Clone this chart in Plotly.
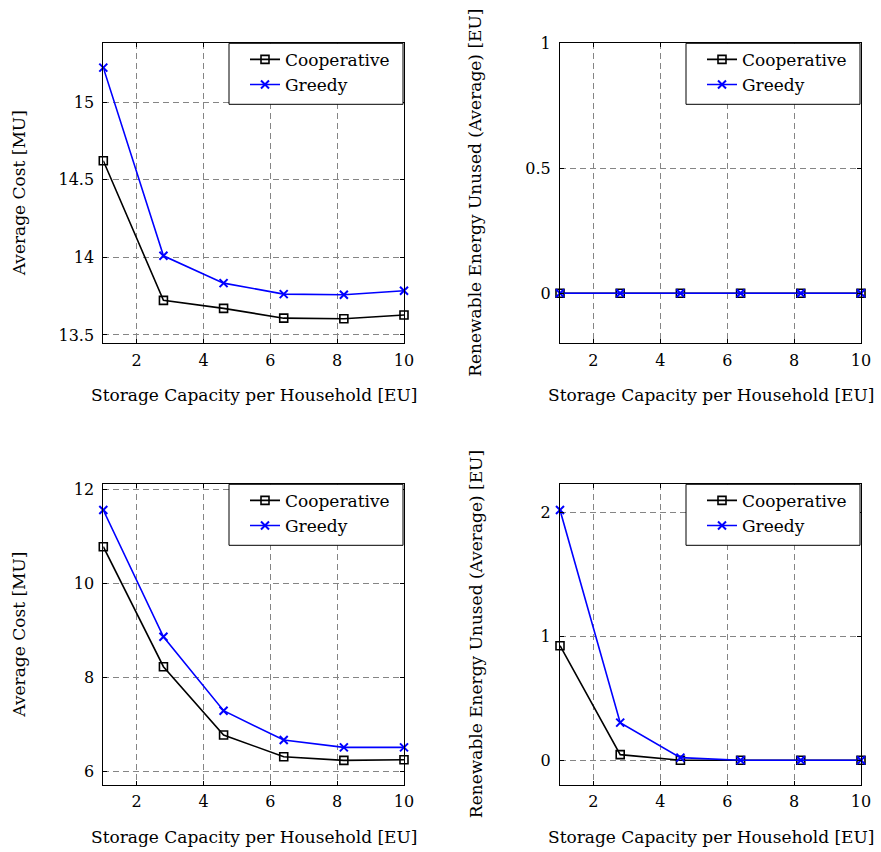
import plotly.graph_objects as go

capacity = [1, 2.8, 4.6, 6.4, 8.2, 10]

cost_top_coop = [14.623, 13.723, 13.671, 13.608, 13.604, 13.628]
cost_top_greedy = [15.223, 14.010, 13.834, 13.763, 13.759, 13.785]
unused_top_coop = [0, 0, 0, 0, 0, 0]
unused_top_greedy = [0, 0, 0, 0, 0, 0]

cost_bot_coop = [10.78, 8.23, 6.778, 6.318, 6.24, 6.253]
cost_bot_greedy = [11.56, 8.867, 7.295, 6.672, 6.516, 6.516]
unused_bot_coop = [0.924, 0.045, 0.0, 0.0, 0.0, 0.0]
unused_bot_greedy = [2.019, 0.303, 0.021, 0.0, 0.0, 0.0]

x_ticks = [2, 4, 6, 8, 10]
yticks_tl = [13.5, 14, 14.5, 15]
yticks_tr = [0, 0.5, 1]
yticks_bl = [6, 8, 10, 12]
yticks_br = [0, 1, 2]

xlabel = "Storage Capacity per Household [EU]"
ylabel_cost = "Average Cost [MU]"
ylabel_unused = "Renewable Energy Unused (Average) [EU]"

W, H = 881, 852
FONT = "DejaVu Serif"
FS_TICK = 16
FS_LABEL = 17

# panel pixel boxes (left, right, top, bottom)
panels = [
    (103.3, 404, 43.3, 343.3),
    (560, 861, 43.3, 343.3),
    (103.3, 404, 484.3, 785),
    (560, 861, 484.3, 785),
]
yranges = [[13.446, 15.38], [-0.2, 1.0], [5.717, 12.106], [-0.2, 2.226]]
ytickss = [yticks_tl, yticks_tr, yticks_bl, yticks_br]
data = [
    (cost_top_coop, cost_top_greedy),
    (unused_top_coop, unused_top_greedy),
    (cost_bot_coop, cost_bot_greedy),
    (unused_bot_coop, unused_bot_greedy),
]
ylabels = [ylabel_cost, ylabel_unused, ylabel_cost, ylabel_unused]
ylabel_x = [19, 475.5, 19, 475.5]
xlabel_y = [395, 395, 836.7, 836.7]

fig = go.Figure()
layout = {}
annotations = []
shapes = []
for i, ((l, r, t, b), yr, yt, (coop, greedy)) in enumerate(zip(panels, yranges, ytickss, data)):
    n = "" if i == 0 else str(i + 1)
    xa, ya = "x" + n, "y" + n
    lg = "legend" + n
    fig.add_trace(go.Scatter(
        x=capacity, y=coop, name="Cooperative", mode="lines+markers",
        line=dict(color="black", width=1.6),
        marker=dict(symbol="square-open", size=8, color="black", line=dict(width=1.6)),
        xaxis=xa, yaxis=ya, legend=lg, cliponaxis=False))
    fig.add_trace(go.Scatter(
        x=capacity, y=greedy, name="Greedy", mode="lines+markers",
        line=dict(color="#0000ff", width=1.6),
        marker=dict(symbol="x-thin", size=8, color="#0000ff", line=dict(width=2, color="#0000ff")),
        xaxis=xa, yaxis=ya, legend=lg, cliponaxis=False))
    common = dict(showline=True, linecolor="black", linewidth=1, mirror="ticks",
                  ticks="inside", ticklen=4, tickcolor="black", tickwidth=1,
                  showgrid=True, gridcolor="#858585", gridwidth=1, griddash="6px,4px",
                  zeroline=False, automargin=False,
                  tickfont=dict(family=FONT, size=FS_TICK, color="black"))
    layout["xaxis" + n] = dict(common, domain=[l / W, r / W], range=[1, 10],
                               tickvals=x_ticks, anchor=ya, ticklabelstandoff=2)
    layout["yaxis" + n] = dict(common, domain=[1 - b / H, 1 - t / H], range=yr,
                               tickvals=yt, anchor=xa, ticklabelstandoff=5)
    # legend frame (white box with black border), legend entries drawn on top
    shapes.append(dict(type="rect", xref="paper", yref="paper",
                       x0=(r - 175) / W, x1=(r - 1) / W,
                       y0=1 - (t + 61) / H, y1=1 - t / H,
                       fillcolor="white", line=dict(color="black", width=1),
                       layer="above"))
    layout[lg] = dict(x=(r - 159) / W, y=1 - (t - 1.5) / H, xref="paper", yref="paper",
                      xanchor="left", yanchor="top",
                      bgcolor="rgba(0,0,0,0)", borderwidth=0,
                      font=dict(family=FONT, size=FS_LABEL, color="black"),
                      tracegroupgap=0)
    annotations.append(dict(text=xlabel, x=(l + r) / 2 / W, y=1 - xlabel_y[i] / H,
                            xref="paper", yref="paper", showarrow=False,
                            xanchor="center", yanchor="middle",
                            font=dict(family=FONT, size=FS_LABEL, color="black")))
    annotations.append(dict(text=ylabels[i], x=ylabel_x[i] / W, y=1 - (t + b) / 2 / H,
                            xref="paper", yref="paper", showarrow=False, textangle=-90,
                            xanchor="center", yanchor="middle",
                            font=dict(family=FONT, size=FS_LABEL, color="black")))

fig.update_layout(template="none", width=W, height=H, margin=dict(l=0, r=0, t=0, b=0),
                  paper_bgcolor="white", plot_bgcolor="white",
                  annotations=annotations, shapes=shapes, **layout)
fig.write_html("out.html")
